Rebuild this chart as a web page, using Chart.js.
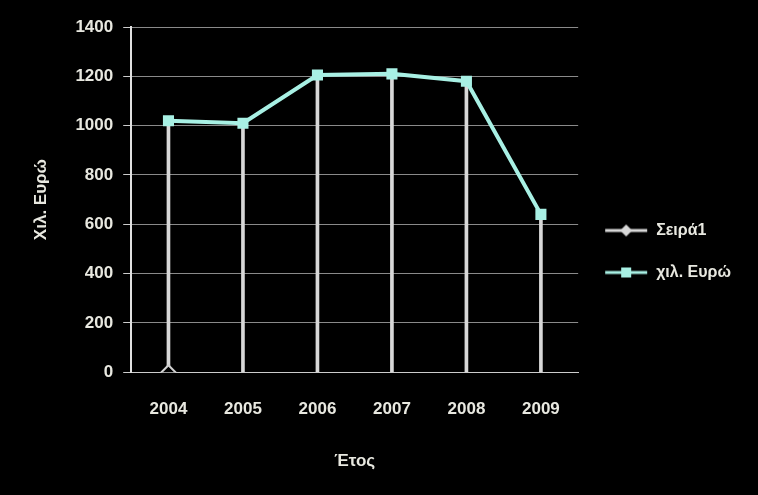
<!DOCTYPE html>
<html>
<head>
<meta charset="utf-8">
<script src="https://cdn.jsdelivr.net/npm/chart.js@4.4.0/dist/chart.umd.min.js"></script>
<style>
html,body{margin:0;padding:0;background:#000;}
#wrap{width:758px;height:495px;position:relative;}
</style>
</head>
<body>
<div id="wrap"><canvas id="c"></canvas></div>
<script>
const categories = ['2004','2005','2006','2007','2008','2009'];
const series1 = [0, null, null, null, null, null];
const seriesEuro = [1020, 1010, 1205, 1210, 1180, 640];
const yTicks = [0,200,400,600,800,1000,1200,1400];
const seriesNames = ['Σειρά1','χιλ. Ευρώ'];

const txt = '#e8e8e0';
const font = {family:'Liberation Sans, Arial', size:17, weight:'bold'};

function legendIcon(color, shape){
  const c = document.createElement('canvas');
  c.width = 44; c.height = 14;
  const g = c.getContext('2d');
  g.strokeStyle = color; g.lineWidth = 3;
  g.beginPath(); g.moveTo(1,7); g.lineTo(43,7); g.stroke();
  g.fillStyle = color;
  if(shape==='diamond'){
    g.beginPath(); g.moveTo(22,1); g.lineTo(28,7); g.lineTo(22,13); g.lineTo(16,7); g.closePath(); g.fill();
  } else {
    g.fillRect(17,2,10,10);
  }
  return c;
}
const icons = [legendIcon('#d8d8d8','diamond'), legendIcon('#a8f0e4','rect')];

new Chart(document.getElementById('c'), {
  data: {
    labels: categories,
    datasets: [
      {type:'bar', label:'_drop', data: seriesEuro, backgroundColor:'#d8d8d8', barThickness:3, order:3},
      {type:'line', label: seriesNames[0], data: series1, borderColor:'#d0d0d0', backgroundColor:'#000',
       pointStyle:'rectRot', pointRadius:7, pointBorderWidth:2, borderWidth:3, order:1},
      {type:'line', label: seriesNames[1], data: seriesEuro, borderColor:'#a8f0e4', backgroundColor:'#a8f0e4',
       pointStyle:'rect', pointRadius:5, borderWidth:4, tension:0, order:2}
    ]
  },
  options: {
    responsive:true, maintainAspectRatio:false, animation:false,
    layout:{padding:{top:27, left:27, right:17, bottom:19}},
    plugins:{
      legend:{position:'right', labels:{color:txt, font:{family:font.family,size:16,weight:'bold'},
        usePointStyle:true, pointStyleWidth:44, padding:26,
        generateLabels:(chart)=>[1,2].map(i=>({text:seriesNames[i-1], fontColor:txt,
          pointStyle:icons[i-1], datasetIndex:i, hidden:false, lineWidth:0}))
      }},
      tooltip:{enabled:false}
    },
    scales:{
      x:{offset:true, grid:{display:false}, border:{color:'#ccc'},
         ticks:{color:txt, font:font, padding:19},
         title:{display:true, text:'Έτος', color:txt, font:font, padding:{top:13}}},
      y:{min:0, max:1400, afterBuildTicks:(ax)=>{ax.ticks=yTicks.map(v=>({value:v}));},
         grid:{color:'#8a8a8a', borderDash:[2,3], drawTicks:true, tickLength:8, tickColor:'#ccc'},
         border:{color:'#e0e0e0', width:2},
         ticks:{color:txt, font:font, padding:10, callback:(v)=>String(v)},
         title:{display:true, text:'Χιλ. Ευρώ', color:txt, font:font, padding:{bottom:14}}}
    }
  }
});
</script>
</body>
</html>
